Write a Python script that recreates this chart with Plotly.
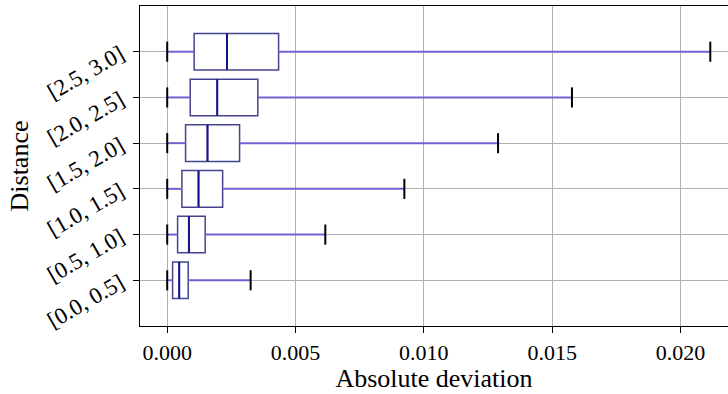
import plotly.graph_objects as go

categories = ["[0.0, 0.5]", "[0.5, 1.0]", "[1.0, 1.5]", "[1.5, 2.0]", "[2.0, 2.5]", "[2.5, 3.0]"]
lowerfence = [0.0, 0.0, 0.0, 0.0, 0.0, 0.0]
q1 = [0.00021, 0.000405, 0.000573, 0.000716, 0.000896, 0.00105]
median = [0.000468, 0.000846, 0.00122, 0.00157, 0.00195, 0.00233]
q3 = [0.000818, 0.00148, 0.00216, 0.00282, 0.00353, 0.00434]
upperfence = [0.00325, 0.00616, 0.00924, 0.01289, 0.01577, 0.02116]
xticks = [0.0, 0.005, 0.010, 0.015, 0.020]
xticklabels = ["0.000", "0.005", "0.010", "0.015", "0.020"]

BOX_COLOR = "#45458f"
MED_COLOR = "#12128a"
WHISK_COLOR = "#7262d2"
CAP_COLOR = "#000000"
FONT = "Liberation Serif"
BOX_W = 0.8
CAP_HALF = 0.22

fig = go.Figure()
pos = list(range(len(categories)))

for i in pos:
    fig.add_trace(go.Box(
        orientation="h", y=[i], q1=[q1[i]], median=[median[i]], q3=[q3[i]],
        lowerfence=[q1[i]], upperfence=[q3[i]], width=BOX_W,
        fillcolor="white", line=dict(color=BOX_COLOR, width=1.5),
        whiskerwidth=0, boxpoints=False, hoverinfo="skip", showlegend=False,
    ))

wx, wy, cx, cy, mx, my = [], [], [], [], [], []
for i in pos:
    wx += [lowerfence[i], q1[i], None, q3[i], upperfence[i], None]
    wy += [i, i, None, i, i, None]
    cx += [lowerfence[i], lowerfence[i], None, upperfence[i], upperfence[i], None]
    cy += [i - CAP_HALF, i + CAP_HALF, None, i - CAP_HALF, i + CAP_HALF, None]
    mx += [median[i], median[i], None]
    my += [i - BOX_W / 2, i + BOX_W / 2, None]

fig.add_trace(go.Scatter(x=wx, y=wy, mode="lines", line=dict(color=WHISK_COLOR, width=2),
                         hoverinfo="skip", showlegend=False))
fig.add_trace(go.Scatter(x=cx, y=cy, mode="lines", line=dict(color=CAP_COLOR, width=2),
                         hoverinfo="skip", showlegend=False))
fig.add_trace(go.Scatter(x=mx, y=my, mode="lines", line=dict(color=MED_COLOR, width=2),
                         hoverinfo="skip", showlegend=False))

fig.update_layout(
    width=728, height=394,
    margin=dict(l=140, r=0, t=6, b=68),
    paper_bgcolor="white", plot_bgcolor="white",
    font=dict(family=FONT, size=22, color="black"),
    showlegend=False,
)
fig.update_xaxes(
    range=[-0.00106, 0.02185], tickvals=xticks, ticktext=xticklabels,
    showgrid=True, gridcolor="#b0b0b0", gridwidth=1, zeroline=False,
    showline=True, linecolor="black", linewidth=1.2, mirror=True,
    ticks="outside", ticklen=6, tickcolor="black", tickwidth=1,
    title=dict(text="Absolute deviation", standoff=4),
)
fig.update_yaxes(
    range=[-1, 6], tickvals=pos, ticktext=categories, tickangle=-30,
    ticklabelstandoff=8, tickfont=dict(size=23),
    showgrid=True, gridcolor="#b0b0b0", gridwidth=1, zeroline=False,
    showline=True, linecolor="black", linewidth=1.2, mirror=False,
    ticks="outside", ticklen=6, tickcolor="black", tickwidth=1,
    title=dict(text="Distance", standoff=6),
)

fig.write_html("out.html")
